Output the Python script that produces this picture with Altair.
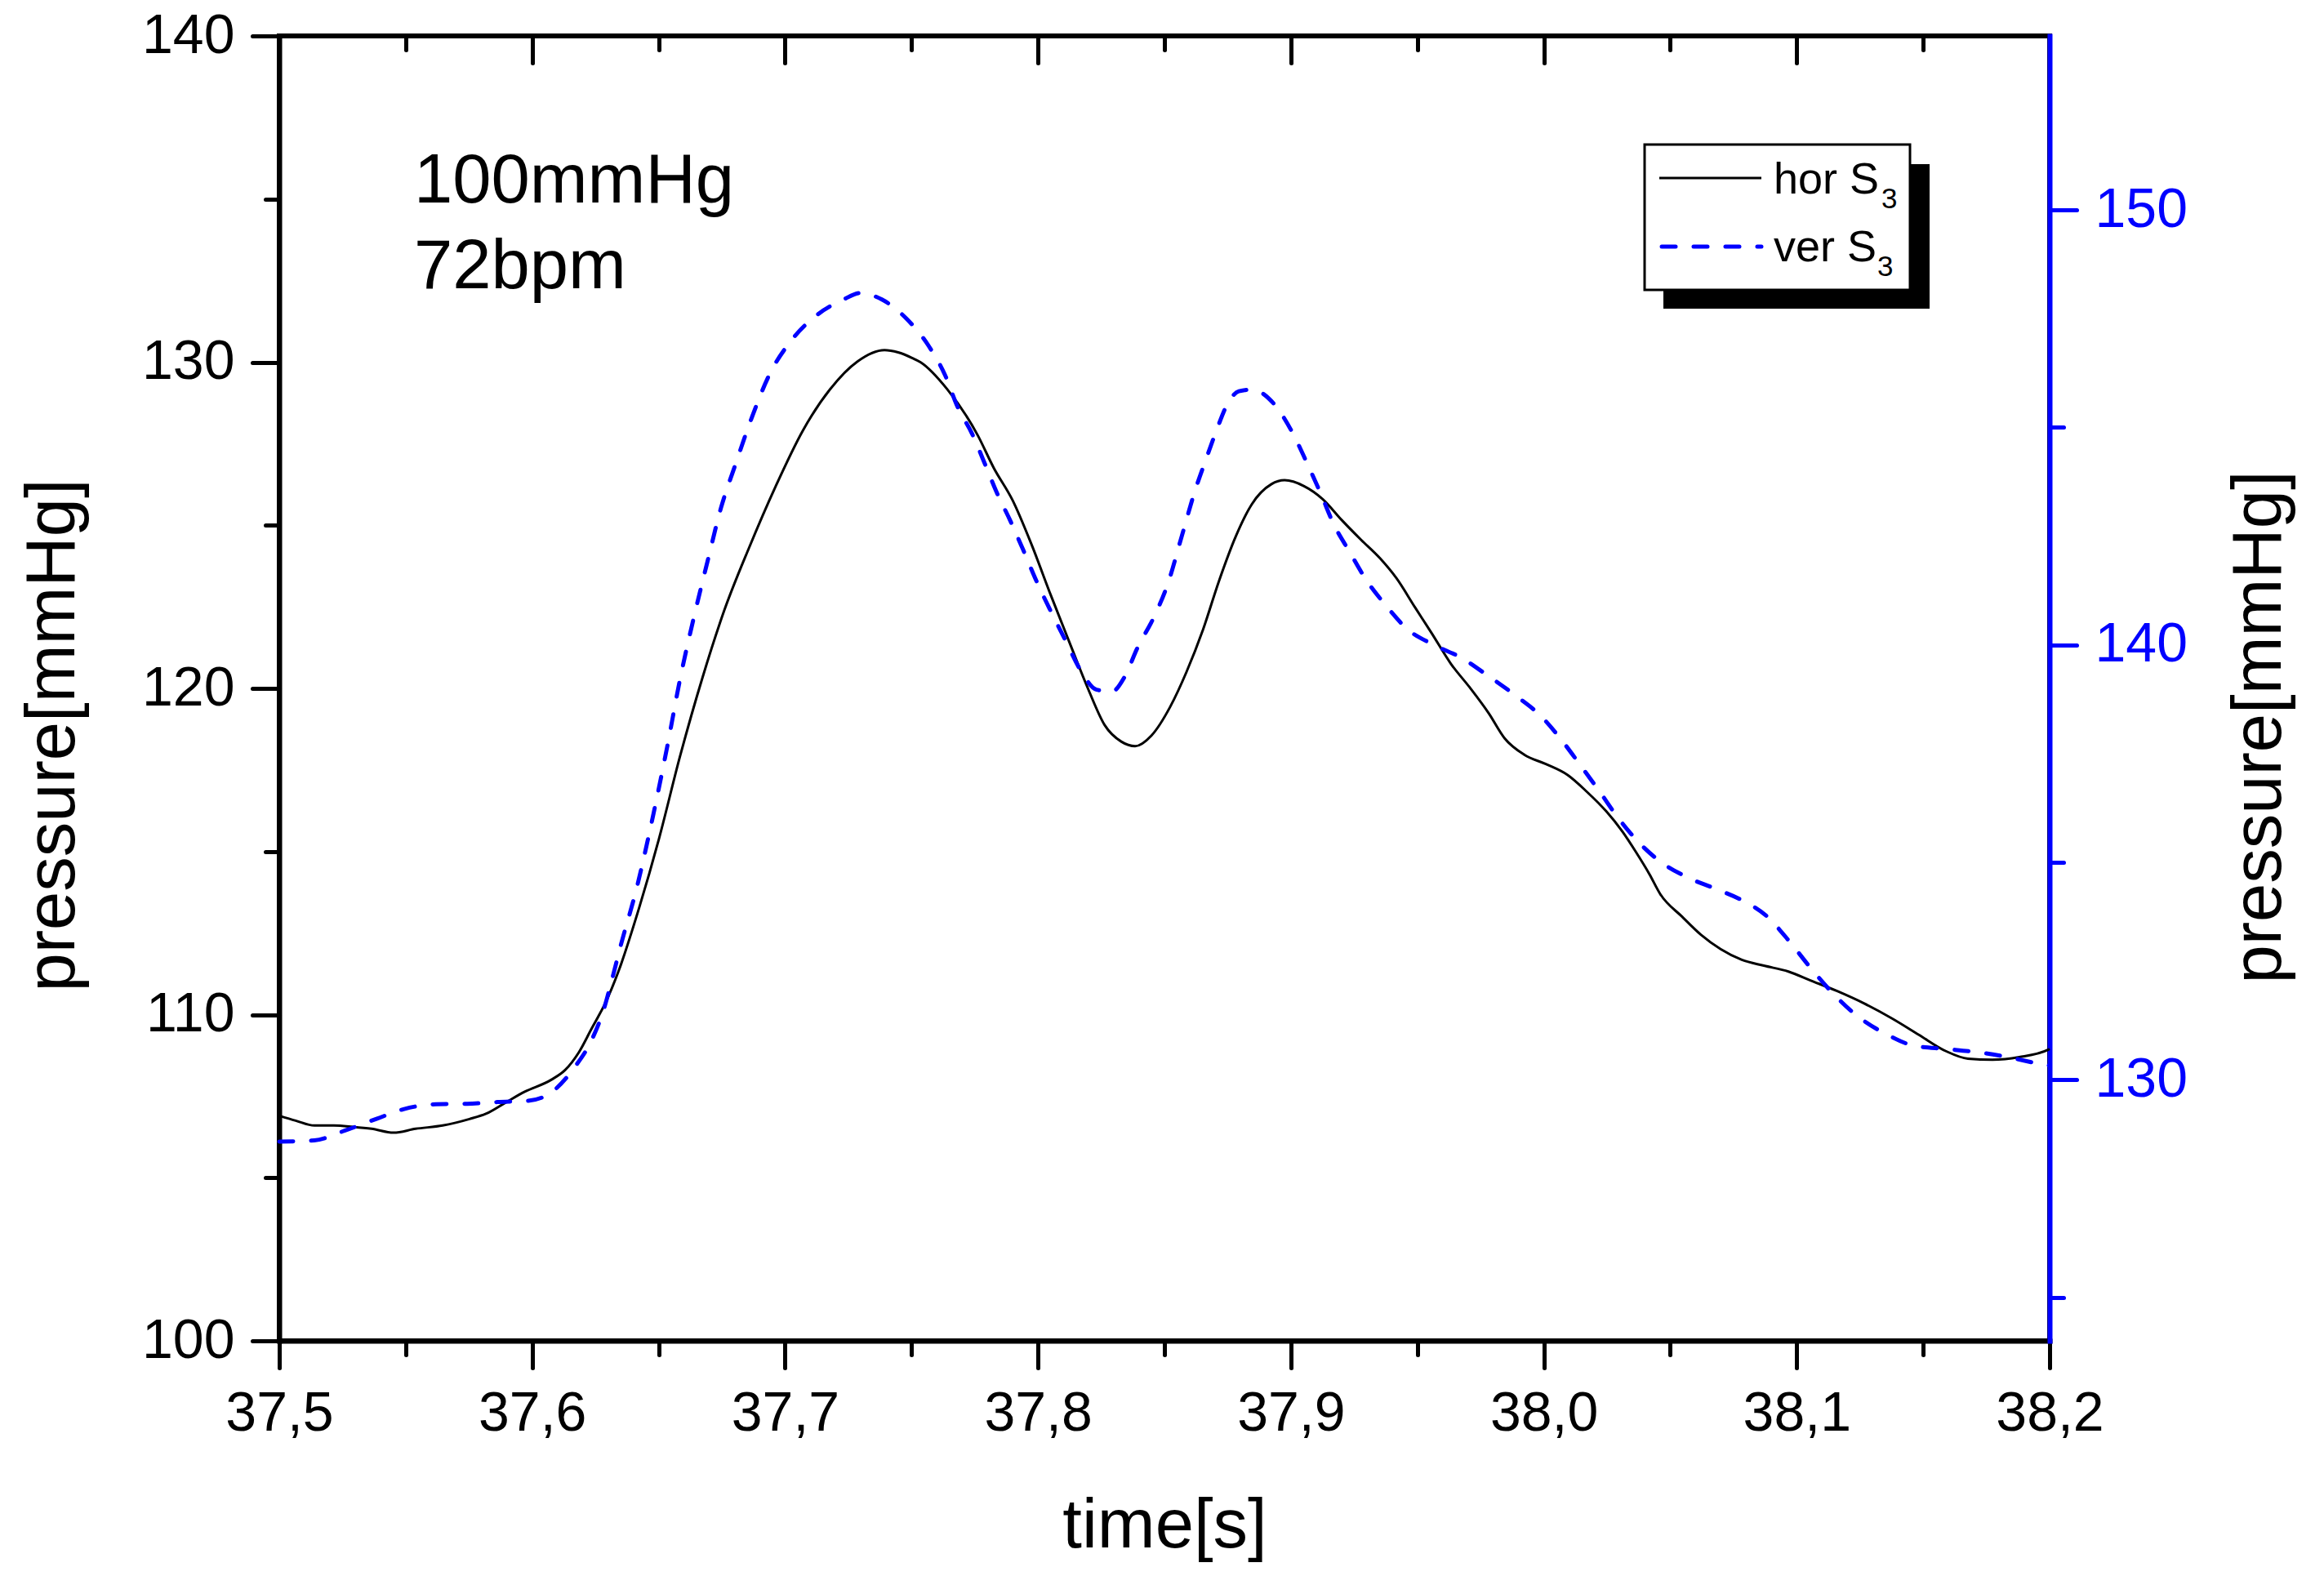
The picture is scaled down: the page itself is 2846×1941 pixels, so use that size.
import altair as alt
import pandas as pd

# ---- horizontal sensor S3, left axis (mmHg) ----
hor_time = [37.500, 37.5065, 37.5139, 37.5216, 37.5291, 37.5365, 37.5452, 37.5539, 37.5646, 37.5752,
            37.5817, 37.5894, 37.5969, 37.6075, 37.6130, 37.6185, 37.6237, 37.6262, 37.6292, 37.6340,
            37.6424, 37.6501, 37.6585, 37.6673, 37.6760, 37.6857, 37.6963, 37.7070, 37.7179, 37.7286,
            37.7393, 37.7447, 37.7502, 37.7535, 37.7641, 37.7761, 37.7825, 37.7900, 37.7974, 37.8051,
            37.8125, 37.8200, 37.8264, 37.8329, 37.8384, 37.8448, 37.8523, 37.8587, 37.8652, 37.8716,
            37.8781, 37.8845, 37.8923, 37.8975, 37.9052, 37.9126, 37.9201, 37.9278, 37.9352, 37.9417,
            37.9491, 37.9556, 37.9633, 37.9708, 37.9782, 37.9846, 37.9924, 38.0008, 38.0095, 38.0169,
            38.0247, 38.0311, 38.0363, 38.0418, 38.0460, 38.0547, 38.0621, 38.0699, 38.0783, 38.0870,
            38.0967, 38.1054, 38.1160, 38.1267, 38.1377, 38.1483, 38.1590, 38.1677, 38.1774, 38.1880,
            38.1993, 38.2000]
hor_pressure = [106.9, 106.75, 106.6, 106.6, 106.56, 106.5, 106.38, 106.5, 106.6, 106.8,
                106.96, 107.3, 107.63, 108.0, 108.3, 108.85, 109.6, 109.95, 110.4, 111.3,
                113.3, 115.38, 117.93, 120.32, 122.4, 124.3, 126.2, 127.9, 129.18, 130.02,
                130.37, 130.3, 130.13, 130.0, 129.17, 127.77, 126.76, 125.76, 124.42, 122.85,
                121.4, 119.95, 118.87, 118.37, 118.23, 118.55, 119.44, 120.5, 121.79, 123.3,
                124.64, 125.64, 126.26, 126.38, 126.2, 125.8, 125.16, 124.55, 123.99, 123.38,
                122.48, 121.7, 120.75, 120.02, 119.24, 118.46, 117.96, 117.68, 117.34, 116.84,
                116.23, 115.61, 115.0, 114.3, 113.7, 113.0, 112.45, 112.01, 111.68, 111.5,
                111.32, 111.05, 110.72, 110.34, 109.88, 109.38, 108.88, 108.65, 108.62, 108.7,
                108.92, 108.95]

# ---- vertical sensor S3, right axis (mmHg) ----
ver_time = [37.5, 37.5139, 37.5258, 37.5387, 37.5494, 37.562, 37.5743, 37.5862, 37.5985, 37.6082,
            37.6169, 37.6233, 37.6282, 37.6314, 37.6346, 37.6414, 37.6479, 37.6534, 37.6585, 37.664,
            37.6695, 37.6747, 37.6802, 37.6866, 37.6941, 37.7018, 37.7125, 37.7231, 37.7296, 37.7383,
            37.748, 37.7567, 37.7632, 37.7683, 37.7738, 37.7793, 37.7835, 37.789, 37.7941, 37.7996,
            37.8051, 37.8109, 37.8167, 37.8232, 37.8293, 37.8342, 37.8393, 37.8455, 37.8513, 37.8568,
            37.862, 37.8665, 37.8707, 37.8749, 37.8794, 37.8845, 37.8933, 37.9007, 37.9062, 37.912,
            37.9168, 37.9233, 37.9297, 37.9375, 37.9459, 37.9569, 37.9675, 37.9782, 37.9892, 37.9989,
            38.0069, 38.015, 38.0224, 38.0289, 38.0369, 38.046, 38.057, 38.0676, 38.0783, 38.088,
            38.0973, 38.1054, 38.1138, 38.1235, 38.1354, 38.1467, 38.159, 38.1709, 38.1838, 38.1968,
            38.2]
ver_pressure = [128.58, 128.61, 128.83, 129.11, 129.33, 129.44, 129.45, 129.49, 129.52, 129.74,
                130.3, 130.89, 131.6, 132.27, 133.0, 134.43, 136.1, 137.66, 139.22, 140.65,
                141.96, 143.16, 144.12, 145.19, 146.25, 146.95, 147.58, 147.94, 148.09, 147.94,
                147.5, 146.88, 146.21, 145.46, 144.87, 144.12, 143.53, 142.86, 142.19, 141.44,
                140.77, 140.1, 139.43, 138.97, 138.93, 139.26, 139.93, 140.6, 141.4, 142.49,
                143.53, 144.28, 144.95, 145.54, 145.83, 145.87, 145.54, 144.87, 144.2, 143.45,
                142.79, 142.13, 141.5, 140.91, 140.37, 139.99, 139.7, 139.28, 138.82, 138.36,
                137.82, 137.19, 136.6, 136.06, 135.5, 135.02, 134.65, 134.4, 134.13, 133.77,
                133.17, 132.58, 132.02, 131.49, 131.05, 130.78, 130.71, 130.64, 130.52, 130.36,
                130.33]

# ---- ticks ----
x_major = [37.5, 37.6, 37.7, 37.8, 37.9, 38.0, 38.1, 38.2]
x_minor = [37.55, 37.65, 37.75, 37.85, 37.95, 38.05, 38.15]
left_major = [100, 110, 120, 130, 140]
left_minor = [105, 115, 125, 135]
right_major = [130, 140, 150]
right_minor = [125, 135, 145]

# ---- texts ----
annotation_lines = ["100mmHg", "72bpm"]
legend_labels = ["hor S", "ver S"]
legend_sub = "3"
x_title = "time[s]"
y_title = "pressure[mmHg]"

FONT = "Liberation Sans"
BLUE = "#0000FF"
W, H = 2168, 1598
MAJOR, MINOR = 33, 17

hor = pd.DataFrame({"time": hor_time, "pressure": hor_pressure})
ver = pd.DataFrame({"time": ver_time, "pressure": ver_pressure})
one = pd.DataFrame({"k": [0]})

x_scale = alt.Scale(domain=[37.5, 38.2], nice=False, zero=False)
left_scale = alt.Scale(domain=[100, 140], nice=False, zero=False)
right_scale = alt.Scale(domain=[124, 154], nice=False, zero=False)

common = dict(grid=False, labelFont=FONT, labelFontSize=68, titleFont=FONT, titleFontSize=85,
              titleFontWeight="normal", tickWidth=5, tickCap="round", domainWidth=6,
              domainCap="square", labelOverlap=False, labelFlush=False)
comma_label = "replace(format(datum.value, '.1f'), '.', ',')"

# black solid trace with bottom / left axes
hor_line = alt.Chart(hor).mark_line(color="black", strokeWidth=3, interpolate="monotone").encode(
    x=alt.X("time:Q", scale=x_scale, title=x_title,
            axis=alt.Axis(orient="bottom", values=x_major, labelExpr=comma_label, tickSize=MAJOR,
                          labelPadding=22, labelColor="black", tickColor="black", domainColor="black",
                          titleColor="black", titleX=W / 2, titleY=252, titleAlign="center",
                          titleBaseline="alphabetic", titleAngle=0, **common)),
    y=alt.Y("pressure:Q", scale=left_scale, title=y_title,
            axis=alt.Axis(orient="left", values=left_major, format="d", tickSize=MAJOR,
                          labelPadding=22, labelColor="black", tickColor="black", domainColor="black",
                          titleColor="black", titleAngle=270, titleX=-252, titleY=856,
                          titleAlign="center", titleBaseline="alphabetic", **common)),
)

# blue dashed trace with top (inward ticks) / right axes
ver_line = alt.Chart(ver).mark_line(color=BLUE, strokeWidth=5, strokeDash=[17, 22], strokeCap="round",
                                    interpolate="monotone").encode(
    x=alt.X("time:Q", scale=x_scale, title=None,
            axis=alt.Axis(orient="top", values=x_major, labels=False, domain=False, tickSize=MAJOR,
                          offset=-MAJOR, tickColor="black", **common)),
    y=alt.Y("pressure:Q", scale=right_scale, title=y_title,
            axis=alt.Axis(orient="right", values=right_major, format="d", tickSize=MAJOR,
                          labelPadding=22, labelColor=BLUE, tickColor=BLUE, domainColor=BLUE,
                          titleColor="black", titleAngle=270, titleX=282, titleY=846,
                          titleAlign="center", titleBaseline="alphabetic", **common)),
)

# minor ticks: bottom + left
minor_a = alt.Chart(hor).mark_line(strokeOpacity=0).encode(
    x=alt.X("time:Q", scale=x_scale, title=None,
            axis=alt.Axis(orient="bottom", values=x_minor, labels=False, domain=False,
                          tickSize=MINOR, tickColor="black", **common)),
    y=alt.Y("pressure:Q", scale=left_scale, title=None,
            axis=alt.Axis(orient="left", values=left_minor, labels=False, domain=False,
                          tickSize=MINOR, tickColor="black", **common)),
)

# minor ticks: top (inward) + right
minor_b = alt.Chart(ver).mark_line(strokeOpacity=0).encode(
    x=alt.X("time:Q", scale=x_scale, title=None,
            axis=alt.Axis(orient="top", values=x_minor, labels=False, domain=False,
                          tickSize=MINOR, offset=-MINOR, tickColor="black", **common)),
    y=alt.Y("pressure:Q", scale=right_scale, title=None,
            axis=alt.Axis(orient="right", values=right_minor, labels=False, domain=False,
                          tickSize=MINOR, tickColor=BLUE, **common)),
)

# condition annotation
notes = [
    alt.Chart(one).mark_text(text=line, font=FONT, fontSize=85, align="left", baseline="alphabetic",
                             color="black").encode(x=alt.value(165), y=alt.value(yy))
    for line, yy in zip(annotation_lines, [204, 309])
]

# legend box with drop shadow
shadow = alt.Chart(one).mark_rect(color="black").encode(
    x=alt.value(1695), x2=alt.value(2021), y=alt.value(157), y2=alt.value(334))
box = alt.Chart(one).mark_rect(fill="white", stroke="black", strokeWidth=3).encode(
    x=alt.value(1672), x2=alt.value(1997), y=alt.value(133), y2=alt.value(311))
key_solid = alt.Chart(one).mark_rule(color="black", strokeWidth=3).encode(
    x=alt.value(1690), x2=alt.value(1815), y=alt.value(174))
key_dash = alt.Chart(one).mark_rule(color=BLUE, strokeWidth=5, strokeDash=[17, 22], strokeCap="round").encode(
    x=alt.value(1693), x2=alt.value(1815), y=alt.value(258))
key_text = [
    alt.Chart(one).mark_text(text=lab, font=FONT, fontSize=54, align="left", baseline="alphabetic",
                             color="black").encode(x=alt.value(1830), y=alt.value(yy))
    for lab, yy in zip(legend_labels, [193, 276])
]
key_sub = [
    alt.Chart(one).mark_text(text=legend_sub, font=FONT, fontSize=35, align="left", baseline="alphabetic",
                             color="black").encode(x=alt.value(xx), y=alt.value(yy))
    for xx, yy in zip([1962, 1957], [211, 294])
]

chart = alt.layer(
    hor_line, ver_line, minor_a, minor_b, *notes, shadow, box, key_solid, key_dash, *key_text, *key_sub
).resolve_scale(
    x="independent", y="independent"
).resolve_axis(
    x="independent", y="independent"
).properties(
    width=W, height=H,
    autosize=alt.AutoSizeParams(type="none"),
    padding={"left": 342, "top": 44, "right": 336, "bottom": 299},
    background="white",
).configure_view(
    stroke="black", strokeWidth=6
)

chart.save("out.html", embed_options={"renderer": "svg", "actions": False})
